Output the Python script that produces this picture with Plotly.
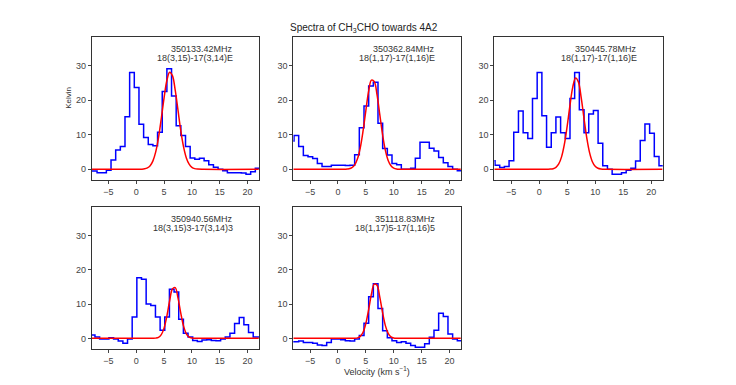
import plotly.graph_objects as go

# channel centres (km/s) of the spectra; panel 350940 sits on a shifted grid
VEL_A = [-8.29, -7.45, -6.62, -5.78, -4.95, -4.11, -3.27, -2.44, -1.60, -0.77,
         0.07, 0.91, 1.74, 2.58, 3.41, 4.25, 5.09, 5.92, 6.76, 7.59,
         8.43, 9.27, 10.10, 10.94, 11.77, 12.61, 13.45, 14.28, 15.12, 15.95,
         16.79, 17.63, 18.46, 19.30, 20.13, 20.97, 21.81, 22.64]
VEL_B = [-8.67, -7.83, -7.00, -6.16, -5.33, -4.49, -3.65, -2.82, -1.98, -1.15,
         -0.31, 0.53, 1.36, 2.20, 3.03, 3.87, 4.71, 5.54, 6.38, 7.21,
         8.05, 8.89, 9.72, 10.56, 11.39, 12.23, 13.07, 13.90, 14.74, 15.57,
         16.41, 17.25, 18.08, 18.92, 19.75, 20.59, 21.43, 22.26]

# observed brightness (K)
T_350133 = [-0.5, -0.5, -1.0, -1.0, -0.3, 2.7, 5.6, 6.6, 15.2, 28.0,
            23.7, 13.0, 9.2, 7.2, 6.8, 10.7, 22.5, 29.1, 21.2, 12.6,
            9.8, 6.6, 3.3, 2.9, 3.2, 2.5, 1.3, 0.6, 0.0, -0.4,
            -1.0, -1.0, -1.0, -1.1, -1.4, -0.7, 0.3, 0.3]
T_350362 = [8.2, 9.8, 6.6, 4.0, 3.6, 3.1, 1.7, 0.8, 0.8, 1.2,
            1.2, 1.2, 1.1, 1.2, 4.2, 12.0, 18.3, 24.1, 25.2, 13.3,
            6.0, 4.1, 1.7, 1.3, 0.0, 0.0, 0.3, 3.2, 7.8, 7.8,
            6.1, 5.3, 3.4, 1.9, 0.8, 0.0, -0.4, -0.4]
T_350445 = [2.5, 1.2, 0.5, 0.8, 2.5, 10.7, 16.9, 10.6, 8.9, 20.5,
            28.0, 15.5, 6.4, 10.6, 15.1, 10.6, 8.9, 20.5, 28.0, 17.2,
            10.6, 16.0, 17.0, 7.5, 1.0, 0.0, -1.4, -1.4, -1.0, -0.3,
            0.3, 2.4, 8.3, 13.1, 10.4, 3.7, 1.0, 1.0]
T_350940 = [1.0, 1.0, 0.4, -0.2, -0.2, 0.2, -0.2, -0.8, -1.4, -0.2,
            6.2, 17.7, 17.2, 10.0, 9.6, 6.2, 2.4, 6.2, 14.3, 13.5,
            5.6, 1.5, 0.4, -0.6, -0.9, -0.5, -0.4, -0.6, -0.7, -0.2,
            0.4, 1.5, 4.3, 6.1, 4.0, 1.7, 0.4, 0.4]
T_351118 = [-1.0, -1.0, -0.8, -1.2, -1.2, -1.4, -1.9, -2.1, -1.2, -0.2,
            -0.2, -0.4, -0.7, -0.8, -0.2, 0.8, 4.4, 12.1, 15.9, 8.7,
            2.2, 0.2, -0.7, -1.2, -1.0, -1.4, -2.1, -2.6, -2.6, -1.6,
            0.3, 2.4, 7.3, 6.4, 1.3, -0.2, -0.7, -0.7]

# gaussian fit curves
FIT_VEL = [-8, 0, 1, 1.5, 2, 2.5, 3, 3.5, 4, 4.5, 5, 5.5, 6, 6.5, 7, 7.5,
           8, 8.5, 9, 9.5, 10, 10.5, 11, 12, 22]
FIT_350133 = [0, 0, 0.04, 0.13, 0.39, 1.03, 2.43, 5.03, 9.16, 14.7, 20.7, 25.7, 28.1,
              27.1, 22.9, 17.1, 11.2, 6.49, 3.30, 1.48, 0.58, 0.20, 0.06, 0, 0]
FIT_350362 = [0, 0, 0.01, 0.04, 0.14, 0.45, 1.26, 3.02, 6.23, 11.1, 17.0, 22.6, 25.8,
              25.4, 21.6, 15.8, 10.0, 5.46, 2.57, 1.04, 0.36, 0.11, 0.03, 0, 0]
FIT_350445 = [0, 0, 0, 0.01, 0.05, 0.18, 0.57, 1.55, 3.59, 7.18, 12.4, 18.5, 23.8,
              26.4, 25.3, 20.8, 14.8, 9.1, 4.82, 2.20, 0.87, 0.29, 0.09, 0, 0]
FIT_350940 = [0, 0, 0, 0, 0, 0, 0.01, 0.07, 0.30, 1.07, 2.99, 6.49, 10.97,
              14.4, 14.8, 11.8, 7.35, 3.56, 1.34, 0.39, 0.09, 0.01, 0, 0, 0]
FIT_351118 = [0, 0, 0, 0, 0, 0, 0.03, 0.15, 0.59, 1.79, 4.34, 8.38, 12.9,
              15.8, 15.5, 12.0, 7.48, 3.71, 1.46, 0.46, 0.12, 0.02, 0, 0, 0]

FREQS = ["350133.42MHz", "350362.84MHz", "350445.78MHz", "350940.56MHz", "351118.83MHz"]
TRANSITIONS = ["18(3,15)-17(3,14)E", "18(1,17)-17(1,16)E", "18(1,17)-17(1,16)E",
               "18(3,15)3-17(3,14)3", "18(1,17)5-17(1,16)5"]
X_TICKS = [-5, 0, 5, 10, 15, 20]
Y_TICKS = [0, 10, 20, 30]

W, H = 736, 385
# panel boxes in pixels: left, right, top, bottom
BOXES = [(91.7, 259.0, 37.3, 180.0), (293.3, 461.0, 37.3, 180.0), (494.3, 662.7, 37.3, 180.0),
         (91.7, 259.0, 207.3, 349.0), (293.3, 461.0, 207.3, 349.0)]

panels = [
    (VEL_A, T_350133, FIT_350133),
    (VEL_A, T_350362, FIT_350362),
    (VEL_A, T_350445, FIT_350445),
    (VEL_B, T_350940, FIT_350940),
    (VEL_A, T_351118, FIT_351118),
]

TICK_FONT = dict(family="Liberation Sans, Arial, sans-serif", size=9, color="#444")
TEXT_FONT = dict(family="Liberation Sans, Arial, sans-serif", size=9, color="#333")

fig = go.Figure()
layout = {}
annotations = []

for i, ((vel, temp, fit), (l, r, t, b)) in enumerate(zip(panels, BOXES)):
    n = "" if i == 0 else str(i + 1)
    xa, ya = "x" + n, "y" + n
    fig.add_trace(go.Scatter(x=vel, y=temp, mode="lines", line=dict(color="#0000ff", width=1.5, shape="hvh"),
                             xaxis=xa, yaxis=ya, showlegend=False, hoverinfo="skip"))
    fig.add_trace(go.Scatter(x=FIT_VEL, y=fit, mode="lines", line=dict(color="#ff0000", width=1.5, shape="spline"),
                             xaxis=xa, yaxis=ya, showlegend=False, hoverinfo="skip"))
    axis_common = dict(showline=True, mirror=True, linecolor="#333", linewidth=1, showgrid=False, zeroline=False,
                       ticks="outside", ticklen=3, tickcolor="#444", tickfont=TICK_FONT)
    layout["xaxis" + n] = dict(axis_common, domain=[l / W, r / W], range=[-8, 22.05], tickvals=X_TICKS,
                               anchor=ya)
    layout["yaxis" + n] = dict(axis_common, domain=[1 - b / H, 1 - t / H], range=[-3.1, 38.2], tickvals=Y_TICKS,
                               anchor=xa)
    annotations.append(dict(text=FREQS[i], x=(r - 24) / W, y=1 - (t + 11.7) / H, xref="paper", yref="paper",
                            xanchor="right", yanchor="middle", showarrow=False, font=TEXT_FONT))
    annotations.append(dict(text=TRANSITIONS[i], x=(r - 24) / W, y=1 - (t + 20.4) / H, xref="paper", yref="paper",
                            xanchor="right", yanchor="middle", showarrow=False, font=TEXT_FONT))

annotations.append(dict(text="Spectra of CH<sub>3</sub>CHO towards 4A2", x=364 / W, y=1 - 28 / H,
                        xref="paper", yref="paper", xanchor="center", yanchor="middle", showarrow=False,
                        font=dict(family="Liberation Sans, Arial, sans-serif", size=10, color="#222")))
annotations.append(dict(text="Velocity (km s<sup>\u22121</sup>)", x=377 / W, y=1 - 370.7 / H,
                        xref="paper", yref="paper", xanchor="center", yanchor="middle", showarrow=False,
                        font=TEXT_FONT))
annotations.append(dict(text="Kelvin", x=68.3 / W, y=1 - 97.5 / H, textangle=-90,
                        xref="paper", yref="paper", xanchor="center", yanchor="middle", showarrow=False,
                        font=dict(family="Liberation Sans, Arial, sans-serif", size=8, color="#333")))

fig.update_layout(
    width=W, height=H,
    margin=dict(l=0, r=0, t=0, b=0),
    paper_bgcolor="white", plot_bgcolor="white",
    annotations=annotations,
    **layout,
)

fig.write_html("out.html", config={"displayModeBar": False},
               post_script="document.body.style.margin='0px';")
